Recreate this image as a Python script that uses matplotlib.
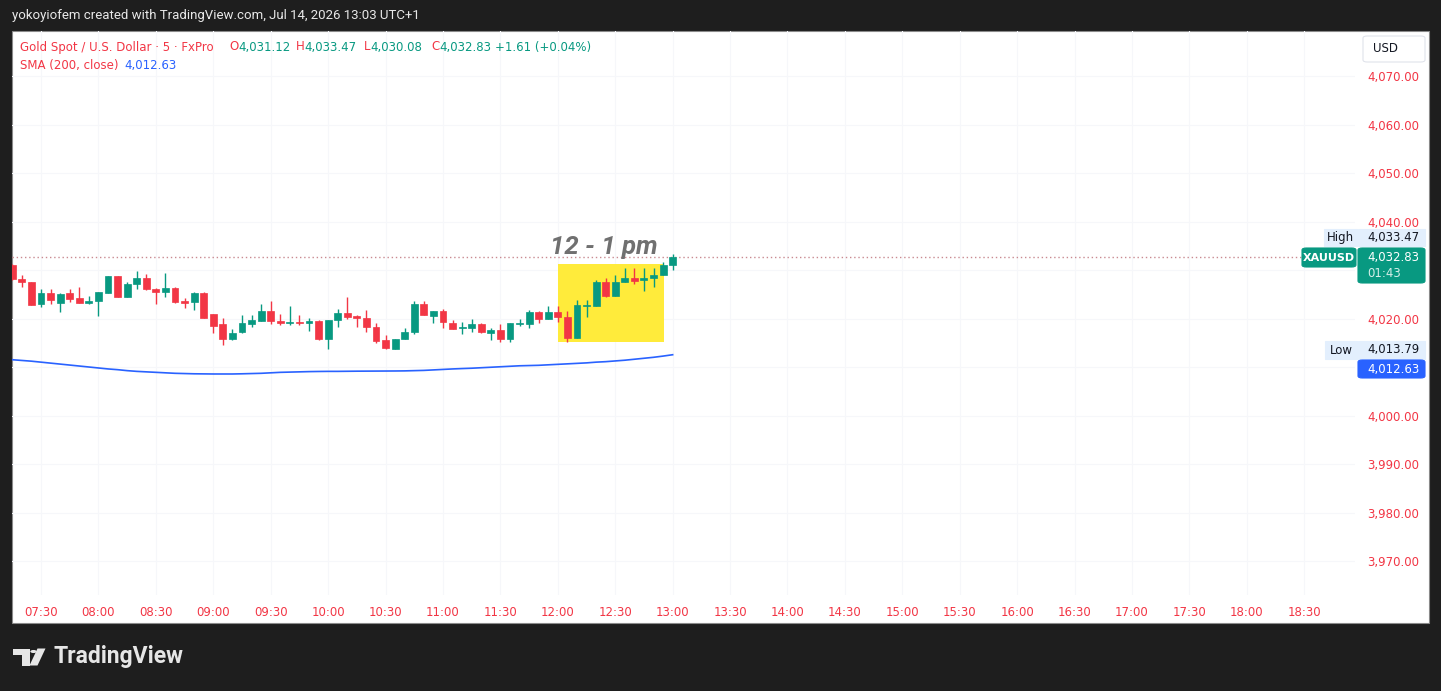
import matplotlib.pyplot as plt
from matplotlib.patches import Rectangle, FancyBboxPatch, Circle, Polygon

# XAUUSD 5-minute candles, first bar at 07:15
first_bar = 7 * 60 + 15
bar_step = 5

bar_open = [4031.13, 4028.19, 4027.57, 4023.09, 4025.42, 4023.24, 4025.30, 4024.27, 4023.24, 4023.71,
            4025.42, 4028.87, 4024.60, 4027.22, 4028.39, 4026.25, 4025.51, 4026.45, 4023.71, 4023.44,
            4025.30, 4020.97, 4018.97, 4015.81, 4017.26, 4018.91, 4019.59, 4021.65, 4019.65, 4019.18,
            4019.38, 4019.24, 4019.65, 4015.81, 4019.79, 4021.30, 4020.62, 4020.27, 4018.29, 4015.67,
            4013.90, 4015.88, 4017.26, 4023.03, 4020.68, 4021.65, 4019.11, 4018.08, 4018.08, 4018.91,
            4017.18, 4017.73, 4015.88, 4019.03, 4018.97, 4021.51, 4019.94, 4021.51, 4020.47, 4016.02,
            4022.68, 4022.68, 4027.69, 4024.80, 4027.69, 4028.39, 4028.04, 4028.39, 4029.07, 4031.12]
bar_high = [4031.30, 4029.07, 4027.65, 4026.12, 4026.25, 4025.42, 4026.12, 4026.54, 4024.74, 4025.63,
            4028.92, 4028.92, 4027.69, 4029.90, 4029.28, 4026.45, 4029.55, 4026.50, 4024.27, 4025.63,
            4025.63, 4021.03, 4020.14, 4017.94, 4020.82, 4020.82, 4023.09, 4023.77, 4021.03, 4022.68,
            4020.82, 4020.27, 4019.80, 4019.85, 4022.00, 4024.60, 4020.82, 4021.86, 4019.11, 4016.70,
            4015.92, 4018.08, 4023.77, 4023.77, 4021.70, 4022.00, 4019.79, 4019.44, 4019.94, 4019.24,
            4018.08, 4018.91, 4019.15, 4020.00, 4021.86, 4021.65, 4022.68, 4022.68, 4021.65, 4023.92,
            4023.92, 4028.04, 4028.39, 4029.07, 4030.45, 4030.45, 4030.58, 4030.58, 4031.81, 4033.47]
bar_low = [4028.05, 4026.54, 4022.80, 4022.54, 4023.09, 4021.51, 4023.57, 4023.20, 4023.09, 4020.68,
           4025.38, 4024.50, 4024.55, 4026.12, 4025.98, 4023.03, 4024.60, 4023.30, 4022.21, 4021.86,
           4020.14, 4017.05, 4014.64, 4015.75, 4017.20, 4018.41, 4019.55, 4018.91, 4018.76, 4018.76,
           4018.76, 4017.59, 4015.70, 4013.79, 4018.41, 4019.94, 4018.29, 4017.38, 4015.11, 4013.81,
           4013.85, 4015.85, 4016.85, 4020.78, 4019.24, 4018.08, 4017.90, 4016.91, 4017.26, 4017.05,
           4015.67, 4015.32, 4015.20, 4018.56, 4018.08, 4019.11, 4019.90, 4019.44, 4015.32, 4016.00,
           4020.47, 4022.65, 4024.60, 4024.78, 4027.57, 4027.15, 4025.77, 4026.66, 4029.05, 4030.08]
bar_close = [4028.19, 4027.69, 4022.89, 4025.42, 4023.92, 4025.15, 4024.19, 4023.24, 4023.77, 4025.51,
             4028.87, 4024.60, 4027.22, 4028.39, 4026.12, 4025.51, 4026.45, 4023.44, 4023.24, 4025.30,
             4020.27, 4018.56, 4015.81, 4017.18, 4019.11, 4019.79, 4021.65, 4019.59, 4019.11, 4019.38,
             4019.18, 4019.53, 4015.81, 4019.79, 4021.30, 4020.47, 4020.27, 4018.41, 4015.53, 4013.96,
             4015.88, 4017.26, 4023.03, 4020.82, 4021.65, 4019.44, 4017.94, 4018.21, 4018.91, 4017.26,
             4017.73, 4015.88, 4019.11, 4019.24, 4021.51, 4019.94, 4021.51, 4020.47, 4016.02, 4022.89,
             4022.89, 4027.69, 4024.80, 4027.69, 4028.39, 4027.90, 4028.39, 4029.07, 4031.13, 4032.83]
sma200 = [4011.60, 4011.45, 4011.30, 4011.10, 4010.90, 4010.70, 4010.50, 4010.30, 4010.10, 4009.90,
          4009.70, 4009.55, 4009.35, 4009.20, 4009.10, 4009.00, 4008.90, 4008.80, 4008.75, 4008.70,
          4008.68, 4008.66, 4008.66, 4008.66, 4008.70, 4008.75, 4008.80, 4008.90, 4009.00, 4009.05,
          4009.10, 4009.15, 4009.18, 4009.20, 4009.20, 4009.22, 4009.24, 4009.25, 4009.26, 4009.27,
          4009.28, 4009.30, 4009.35, 4009.40, 4009.50, 4009.60, 4009.70, 4009.78, 4009.85, 4009.95,
          4010.05, 4010.15, 4010.25, 4010.35, 4010.40, 4010.45, 4010.55, 4010.65, 4010.75, 4010.85,
          4010.95, 4011.10, 4011.20, 4011.35, 4011.50, 4011.70, 4011.90, 4012.10, 4012.35, 4012.63]

price_ticks = [3970, 3980, 3990, 4000, 4010, 4020, 4030, 4040, 4050, 4060, 4070]
hidden_ticks = [4010, 4030]
last_price = 4032.83

UP = '#089981'
DOWN = '#f23645'
BLUE = '#2962ff'
W, H = 1441, 691

plt.rcParams['font.family'] = ['DejaVu Sans']


def fx(x):
    return x / W


def fy(y):
    return 1 - y / H


def box(x0, y0, x1, y1, color, rounded=False, ec=None):
    if rounded:
        p = FancyBboxPatch((fx(x0), fy(y1)), fx(x1) - fx(x0), fy(y0) - fy(y1),
                           boxstyle='round,pad=0,rounding_size=0.003',
                           transform=fig.transFigure, facecolor=color,
                           edgecolor=ec or color, lw=0.8, zorder=5)
    else:
        p = Rectangle((fx(x0), fy(y1)), fx(x1) - fx(x0), fy(y0) - fy(y1),
                      transform=fig.transFigure, facecolor=color,
                      edgecolor=ec or color, lw=0.8, zorder=5)
    fig.add_artist(p)


def label(x, y, s, color, size=8.5, ha='left', weight='normal', family=None):
    fig.text(fx(x), fy(y), s, color=color, fontsize=size, ha=ha, va='center',
             fontweight=weight, zorder=6, family=family)


fig = plt.figure(figsize=(14.41, 6.91), dpi=100, facecolor='#1e1e1e')

# white chart panel
fig.add_artist(Rectangle((fx(12), fy(623)), fx(1429) - fx(12), fy(31) - fy(623),
                         transform=fig.transFigure, facecolor='white',
                         edgecolor='#8a8a8a', lw=0.8, zorder=-1))

ax = fig.add_axes([fx(12), fy(595), fx(1355) - fx(12), fy(31) - fy(595)])
ax.set_facecolor('none')
ax.set_axisbelow(True)

times = [first_bar + i * bar_step for i in range(len(bar_open))]

for t, o, h, l, c in zip(times, bar_open, bar_high, bar_low, bar_close):
    col = UP if c >= o else DOWN
    ax.vlines(t, l, h, color=col, lw=1, zorder=4)
    ax.bar(t, max(abs(c - o), 0.2), bottom=min(o, c), width=3.6, color=col,
           edgecolor=col, lw=0.5, zorder=5)

ax.plot(times, sma200, color=BLUE, lw=1.2, zorder=3)
ax.axhline(last_price, color='#c98a91', lw=1, ls=(0, (1, 2)), zorder=2)

# highlighted hour
ax.add_patch(Rectangle((720, 4015.26), 55.5, 16.08, facecolor='#ffeb3b',
                       edgecolor='none', zorder=1))
ax.text(744, 4034.8, '12 - 1 pm', fontsize=18.5, fontweight='bold', fontstyle='italic',
        color='#707070', ha='center', va='center', zorder=6, family='Roboto')

ax.set_xlim(434.84, 1136.5)
ax.set_ylim(3963.09, 4079.38)

xt = list(range(450, 1111, 30))
ax.set_xticks(xt)
ax.set_xticklabels([f'{m // 60:02d}:{m % 60:02d}' for m in xt])
ax.set_yticks(price_ticks)
ax.set_yticklabels(['' if p in hidden_ticks else f'{p:,.2f}' for p in price_ticks])
ax.yaxis.tick_right()
ax.tick_params(axis='x', length=0, pad=8, labelsize=8.5, labelcolor=DOWN)
ax.tick_params(axis='y', length=0, pad=8.6, labelsize=8.5, labelcolor=DOWN)
ax.grid(True, color='#f6f7fa', lw=0.8)
for s in ax.spines.values():
    s.set_visible(False)

# header texts
label(12, 16, 'yokoyiofem created with TradingView.com, Jul 14, 2026 13:03 UTC+1', '#e8e8e8',
      size=9.5, family='Roboto')
label(20, 47, 'Gold Spot / U.S. Dollar · 5 · FxPro', DOWN)
label(229, 47, 'O', DOWN)
label(238, 47, '4,031.12', UP)
label(296, 47, 'H', DOWN)
label(304.5, 47, '4,033.47', UP)
label(364, 47, 'L', DOWN)
label(370, 47, '4,030.08', UP)
label(431, 47, 'C', DOWN)
label(439, 47, '4,032.83', UP)
label(495, 47, '+1.61 (+0.04%)', UP)
label(20, 66, 'SMA (200, close)', DOWN)
label(124, 66, '4,012.63', BLUE)

# price scale labels
box(1363, 36, 1425, 62, 'white', rounded=True, ec='#e0e3eb')
label(1373, 49, 'USD', '#131722')
box(1324, 229, 1357, 246, '#e3effd')
label(1340.5, 238, 'High', '#131722', ha='center')
box(1358, 229, 1425, 246, '#e3effd')
label(1367, 238, '4,033.47', '#131722')
box(1302, 248, 1356, 267, UP, rounded=True)
label(1329, 258, 'XAUUSD', 'white', size=8, ha='center', weight='bold')
box(1358, 248, 1425, 283, UP, rounded=True)
label(1367, 257, '4,032.83', 'white')
label(1367, 274, '01:43', '#d5efe9')
box(1325, 341, 1357, 359, '#e3effd')
label(1341, 350, 'Low', '#131722', ha='center')
box(1358, 341, 1425, 359, '#e3effd')
label(1367, 350, '4,013.79', '#131722')
box(1358, 360, 1425, 378, BLUE, rounded=True)
label(1367, 369, '4,012.63', 'white')

# TradingView logo
logo = '#e6e6e6'
fig.add_artist(Polygon([(fx(13.5), fy(648.5)), (fx(29.5), fy(648.5)), (fx(29.5), fy(665.5)),
                        (fx(22), fy(665.5)), (fx(22), fy(655)), (fx(13.5), fy(655))],
                       closed=True, transform=fig.transFigure, facecolor=logo, edgecolor='none'))
fig.add_artist(Circle((fx(33.5), fy(651.5)), 3.2 / W, transform=fig.transFigure,
                      facecolor=logo, edgecolor='none'))
fig.add_artist(Polygon([(fx(37.5), fy(648.5)), (fx(45.5), fy(648.5)), (fx(37.5), fy(665.5)),
                        (fx(29.5), fy(665.5))],
                       closed=True, transform=fig.transFigure, facecolor=logo, edgecolor='none'))
label(54, 657, 'TradingView', logo, size=16.5, weight='bold', family='Roboto')

fig.savefig('out.png', dpi=100, facecolor=fig.get_facecolor())
